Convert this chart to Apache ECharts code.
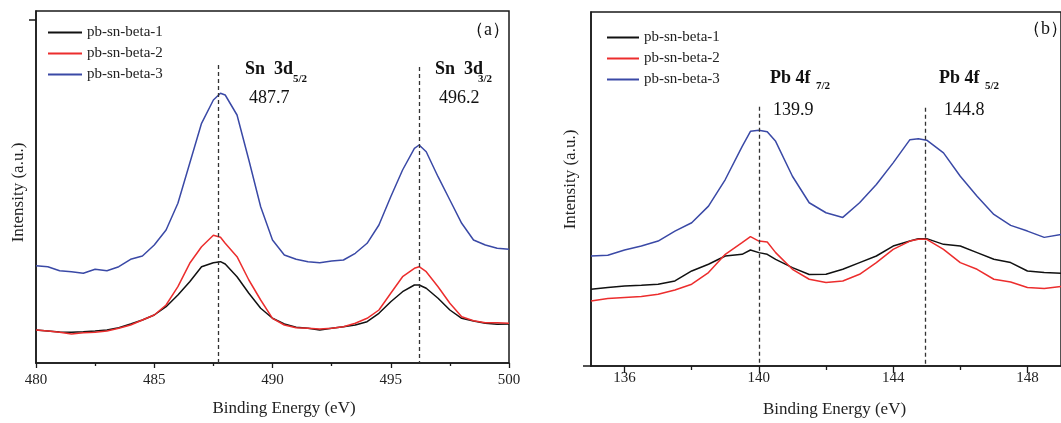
<!DOCTYPE html>
<html>
<head>
<meta charset="utf-8">
<script src="https://cdn.jsdelivr.net/npm/echarts@6/dist/echarts.min.js"></script>
<style>
  html, body { margin: 0; padding: 0; background: #fff; }
  #chart { width: 1061px; height: 423px; }
</style>
</head>
<body>
<div id="chart"></div>
<script>
// (a) Sn 3d region
const energyA = [480, 480.5, 481, 481.5, 482, 482.5, 483, 483.5, 484, 484.5, 485, 485.5, 486, 486.5, 487, 487.5, 487.8, 488, 488.5, 489, 489.5, 490, 490.5, 491, 491.5, 492, 492.5, 493, 493.5, 494, 494.5, 495, 495.5, 496, 496.2, 496.5, 497, 497.5, 498, 498.5, 499, 499.5, 500];
const beta1A = [33, 32, 31, 30.7, 31.3, 32, 33, 35.3, 39, 43, 48, 56.3, 68, 81.3, 96.3, 100.3, 101.3, 99, 86.3, 69.7, 54.7, 44.7, 39, 35.7, 34.7, 33, 34.7, 36.3, 38, 41.3, 49.7, 61.3, 71.3, 78, 78, 74.7, 64.7, 53, 44.7, 42, 39.7, 38.7, 39];
const beta2A = [33, 32, 30.7, 29, 30.3, 30.7, 32, 34.7, 38, 43, 48, 58, 76.3, 99.7, 116.3, 127.7, 125.7, 119.7, 106.3, 83, 63, 44.7, 38, 35.3, 34.7, 34, 34.7, 36.3, 39.7, 44.7, 53, 69.7, 86.3, 94.7, 96.3, 91.3, 76.3, 59.7, 46.3, 42.3, 40.3, 40.3, 39.7];
const beta3A = [97.3, 96.3, 92.3, 91.3, 89.7, 93.7, 92.3, 96.3, 103.7, 107, 118, 133, 159.7, 199.7, 239.7, 263, 269.7, 268, 248, 203, 156.3, 123, 108, 103.7, 101.3, 100.3, 102, 103, 109.7, 119.7, 138, 166.3, 193, 214.7, 218, 211.3, 186.3, 163, 139.7, 123, 118, 114.7, 113.7];

// (b) Pb 4f region
const energyB = [135, 135.5, 136, 136.5, 137, 137.5, 138, 138.5, 139, 139.5, 139.75, 140, 140.25, 140.5, 141, 141.5, 142, 142.5, 143, 143.5, 144, 144.5, 144.75, 145, 145.5, 146, 146.5, 147, 147.5, 148, 148.5, 149];
const beta1B = [77, 78.7, 80.3, 81, 82, 85.3, 95.3, 102, 110.3, 112, 116.3, 113.7, 112, 107, 98.7, 91.7, 92, 97, 103.7, 110.3, 120.3, 125.3, 127.7, 127.7, 122, 120.3, 113.7, 107, 103.7, 95.3, 93.7, 93];
const beta2B = [65.3, 67.7, 68.7, 69.7, 72, 76.3, 82, 93.7, 112, 123.7, 129.7, 125.3, 124.3, 113.7, 97, 87, 83.7, 85.3, 92, 103.7, 117, 125.3, 127, 127, 117, 103.7, 97, 87, 84.3, 78.7, 77.7, 79.7];
const beta3B = [110.3, 111, 116.3, 120.3, 125.3, 135.3, 143.7, 160.3, 187, 220, 235.3, 236.3, 235, 225.3, 190.3, 163.7, 153.7, 149, 163.7, 182, 203.7, 227, 228, 226.5, 213.7, 190.3, 170.3, 152, 141, 135.3, 129, 132];

const seriesNames = ['pb-sn-beta-1', 'pb-sn-beta-2', 'pb-sn-beta-3'];
const seriesColors = ['#111111', '#ec2d2d', '#3a49a6'];

// dashed peak markers: [x position, top of line]
const peakLinesA = [[487.7, 298], [496.2, 296]];
const peakLinesB = [[140, 260], [144.95, 259]];
const ticksB = [136, 140, 144, 148];
const minorTicksB = [138, 142, 146];

const serif = 'Liberation Serif, Times New Roman, serif';
const axisColor = '#1a1a1a';

const zip = (xs, ys) => xs.map((x, i) => [x, ys[i]]);

function peakMarks(lines) {
  return {
    silent: true,
    symbol: ['none', 'none'],
    label: { show: false },
    lineStyle: { type: [4, 3], color: '#333', width: 1.3 },
    data: lines.map(([x, top]) => [{ coord: [x, top] }, { coord: [x, 0] }])
  };
}

function makeSeries(xIdx, energy, sets, lines) {
  return sets.map((vals, i) => ({
    name: seriesNames[i],
    type: 'line',
    xAxisIndex: xIdx,
    yAxisIndex: xIdx === 0 ? 0 : 1,
    data: zip(energy, vals),
    symbol: 'none',
    lineStyle: { color: seriesColors[i], width: 1.5 },
    itemStyle: { color: seriesColors[i] },
    markLine: i === 0 ? peakMarks(lines) : undefined
  }));
}

function label(x, y, text, size, bold) {
  return {
    type: 'text', x: x, y: y,
    style: {
      text: text, fill: '#111', fontFamily: serif, fontSize: size,
      fontWeight: bold ? 'bold' : 'normal', verticalAlign: 'middle'
    }
  };
}

const chart = echarts.init(document.getElementById('chart'));

const option = {
  animation: false,
  backgroundColor: '#fff',
  grid: [
    { left: 36, top: 11, width: 473, height: 352, show: true, borderColor: axisColor, borderWidth: 1.5 },
    { left: 591, top: 12, width: 476, height: 355, show: true, borderColor: axisColor, borderWidth: 1.5 }
  ],
  legend: [
    {
      data: seriesNames, orient: 'vertical', left: 43, top: 20,
      icon: 'rect', itemWidth: 34, itemHeight: 2, itemGap: 6,
      textStyle: { fontFamily: serif, fontSize: 15, color: '#222', lineHeight: 14 }
    },
    {
      data: seriesNames, orient: 'vertical', left: 602, top: 25,
      icon: 'rect', itemWidth: 32, itemHeight: 2, itemGap: 6,
      textStyle: { fontFamily: serif, fontSize: 15, color: '#222', lineHeight: 14 }
    }
  ],
  xAxis: [
    {
      gridIndex: 0, type: 'value', min: 480, max: 500, interval: 5,
      name: 'Binding Energy (eV)', nameLocation: 'middle', nameGap: 37,
      nameTextStyle: { fontFamily: serif, fontSize: 17, color: '#222', padding: [0, 0, 0, 23] },
      axisLine: { lineStyle: { color: axisColor, width: 1.5 } },
      axisTick: { inside: false, length: 5, lineStyle: { color: axisColor, width: 1.3 } },
      minorTick: { show: true, splitNumber: 2, length: 3, lineStyle: { color: axisColor, width: 1.3 } },
      axisLabel: { fontFamily: serif, fontSize: 15, color: '#222', margin: 10 },
      splitLine: { show: false }
    },
    {
      gridIndex: 1, type: 'value', min: 135, max: 149,
      name: 'Binding Energy (eV)', nameLocation: 'middle', nameGap: 35,
      nameTextStyle: { fontFamily: serif, fontSize: 17, color: '#222', padding: [0, 0, 0, 17] },
      axisLine: { lineStyle: { color: axisColor, width: 1.5 } },
      axisTick: { length: 7, customValues: ticksB, lineStyle: { color: axisColor, width: 1.3 } },
      axisLabel: { fontFamily: serif, fontSize: 15, color: '#222', margin: 5, customValues: ticksB },
      splitLine: { show: false }
    },
    {
      gridIndex: 1, type: 'value', min: 135, max: 149, position: 'bottom',
      axisLine: { show: false },
      axisTick: { length: 4, customValues: minorTicksB, lineStyle: { color: axisColor, width: 1.3 } },
      axisLabel: { show: false },
      splitLine: { show: false }
    }
  ],
  yAxis: [
    {
      gridIndex: 0, type: 'value', min: 0, max: 352,
      name: 'Intensity (a.u.)', nameLocation: 'middle', nameGap: 9,
      nameTextStyle: { fontFamily: serif, fontSize: 17, color: '#222', padding: [0, 11, 0, 0] },
      axisLine: { show: true, lineStyle: { color: axisColor, width: 1.5 } },
      axisTick: { show: true, length: 7, customValues: [343], lineStyle: { color: axisColor, width: 1.5 } },
      axisLabel: { show: false },
      splitLine: { show: false }
    },
    {
      gridIndex: 1, type: 'value', min: 0, max: 355,
      name: 'Intensity (a.u.)', nameLocation: 'middle', nameGap: 12,
      nameTextStyle: { fontFamily: serif, fontSize: 17, color: '#222', padding: [0, 0, 0, 19] },
      axisLine: { show: true, lineStyle: { color: axisColor, width: 1.5 } },
      axisTick: { show: true, length: 8, customValues: [0], lineStyle: { color: axisColor, width: 1.5 } },
      axisLabel: { show: false },
      splitLine: { show: false }
    }
  ],
  series: [
    ...makeSeries(0, energyA, [beta1A, beta2A, beta3A], peakLinesA),
    ...makeSeries(1, energyB, [beta1B, beta2B, beta3B], peakLinesB)
  ],
  graphic: [
    label(466, 30, '（a）', 18, false),
    label(245, 69, 'Sn  3d', 18, true),
    label(293, 79, '5/2', 11, true),
    label(249, 98, '487.7', 18, false),
    label(435, 69, 'Sn  3d', 18, true),
    label(478, 79, '3/2', 11, true),
    label(439, 98, '496.2', 18, false),
    label(1023, 29, '（b）', 18, false),
    label(770, 78, 'Pb 4f', 18, true),
    label(816, 86, '7/2', 11, true),
    label(773, 110, '139.9', 18, false),
    label(939, 78, 'Pb 4f', 18, true),
    label(985, 86, '5/2', 11, true),
    label(944, 110, '144.8', 18, false)
  ]
};

chart.setOption(option);
</script>
</body>
</html>
